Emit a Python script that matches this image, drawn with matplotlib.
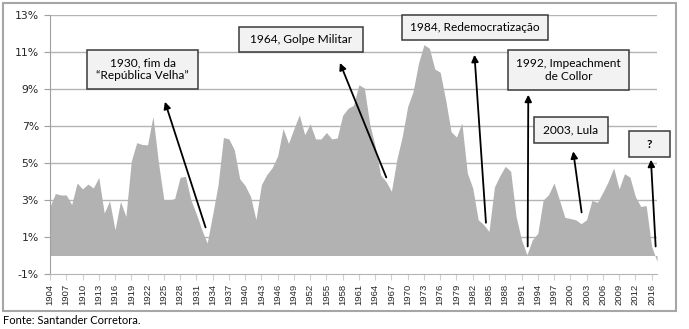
import matplotlib
matplotlib.use('Agg')
import matplotlib.pyplot as plt
from matplotlib.patches import Rectangle

# ---------------- data ----------------
# category labels as shown on the axis (the axis labels jump from 2012 to 2016 after 3 steps)
years = list(range(1904, 2015)) + [2016, 2017]
growth = [
    2.65, 3.35, 3.27, 3.27, 2.75, 3.92, 3.60, 3.86, 3.65, 4.22,
    2.30, 2.95, 1.39, 2.92, 2.11, 5.10, 6.10, 6.00, 5.98, 7.52,
    5.05, 3.03, 3.00, 3.08, 4.22, 4.28, 3.00, 2.25, 1.40, 0.67,
    2.20, 3.80, 6.38, 6.30, 5.72, 4.15, 3.78, 3.20, 1.94, 3.83,
    4.37, 4.75, 5.38, 6.86, 6.06, 6.85, 7.60, 6.53, 7.12, 6.30,
    6.30, 6.65, 6.30, 6.35, 7.58, 7.96, 8.12, 9.23, 9.05, 7.10,
    5.90, 4.35, 4.00, 3.47, 5.20, 6.44, 8.06, 8.87, 10.40, 11.40,
    11.20, 10.08, 9.90, 8.42, 6.70, 6.40, 7.16, 4.46, 3.65, 1.94,
    1.67, 1.30, 3.70, 4.31, 4.82, 4.55, 2.11, 0.85, 0.04, 0.85,
    1.20, 3.00, 3.29, 3.92, 3.00, 2.06, 2.00, 1.93, 1.72, 1.93,
    2.98, 2.87, 3.41, 4.00, 4.73, 3.60, 4.42, 4.24, 3.19, 2.65,
    2.70, 0.50, -0.32,
]
ytick_vals = [-1, 1, 3, 5, 7, 9, 11, 13]
label_step = 3

# annotations: text, bold?, box (px: x0, y0, x1, y1), arrow tail (category index, %), arrow head (category index, %)
notes = [
    ("1930, fim da\n\u201cRep\u00fablica Velha\u201d", False, (87, 50, 198, 89), (28.7, 1.52), (21.2, 8.31)),
    ("1964, Golpe Militar", False, (239, 27, 363, 52), (62.05, 4.22), (53.5, 10.41)),
    ("1984, Redemocratiza\u00e7\u00e3o", False, (402, 15, 548, 40), (80.44, 1.77), (78.32, 10.85)),
    ("1992, Impeachment\nde Collor", False, (508, 50, 629, 90), (88.14, 0.49), (88.25, 8.69)),
    ("2003, Lula", False, (534, 117, 608, 143), (98.09, 2.33), (96.54, 5.63)),
    ("?", True, (629, 131, 670, 157), (111.75, 0.49), (110.88, 5.18)),
]

W, H = 689, 329
fig = plt.figure(figsize=(W / 100, H / 100), dpi=100)
fig.patch.set_facecolor('white')

ax = fig.add_axes([50 / W, 1 - 274 / H, 607 / W, 259 / H])
idx = list(range(len(years)))
ax.fill_between(idx, growth, 0, color='#b2b2b2', lw=0, interpolate=True, zorder=2)

ax.set_xlim(0, len(years) - 1)
ax.set_ylim(-1, 13)
ax.set_yticks(ytick_vals)
ax.set_yticklabels([f"{v}%" for v in ytick_vals], fontsize=7.8, family='DejaVu Sans', color='#262626')
tick_idx = idx[::label_step]
ax.set_xticks(tick_idx)
ax.set_xticklabels([str(years[i]) for i in tick_idx], rotation=90, fontsize=6.8,
                   family='Liberation Sans', color='#262626')

for v in ytick_vals[1:]:
    ax.axhline(v, color='#b4b4b4', lw=1.0, zorder=1)

for s in ['top', 'right']:
    ax.spines[s].set_visible(False)
ax.spines['left'].set_color('#a0a0a0')
ax.spines['bottom'].set_color('#b4b4b4')
ax.tick_params(axis='y', length=4, color='#a0a0a0', pad=4)
ax.tick_params(axis='x', length=4, color='#d0d0d0', pad=3)

for text, bold, (x0, y0, x1, y1), tail, head in notes:
    rect = Rectangle((x0 / W, 1 - y1 / H), (x1 - x0) / W, (y1 - y0) / H,
                     transform=fig.transFigure, facecolor='#f2f2f2',
                     edgecolor='#3a3a3a', lw=1.1, zorder=5)
    fig.add_artist(rect)
    fig.text((x0 + x1) / 2 / W, 1 - (y0 + y1) / 2 / H, text, ha='center', va='center',
             fontsize=8.6, family='Lato', color='black', linespacing=1.2,
             fontweight='bold' if bold else 'normal', zorder=6)
    ax.annotate('', xy=head, xytext=tail, xycoords='data', textcoords='data',
                arrowprops=dict(arrowstyle='-|>', color='black', lw=1.3,
                                mutation_scale=10, shrinkA=0, shrinkB=0),
                annotation_clip=False, zorder=4)

# outer frame
frame = Rectangle((3 / W, 1 - 311 / H), 673 / W, 308 / H, transform=fig.transFigure,
                  fill=False, edgecolor='#a6a6a6', lw=1.5, zorder=0)
fig.add_artist(frame)

fig.text(3 / W, 1 - 320 / H, "Fonte: Santander Corretora.", ha='left', va='center',
         fontsize=8, family='Lato', color='black')

fig.savefig('out.png', dpi=100)
